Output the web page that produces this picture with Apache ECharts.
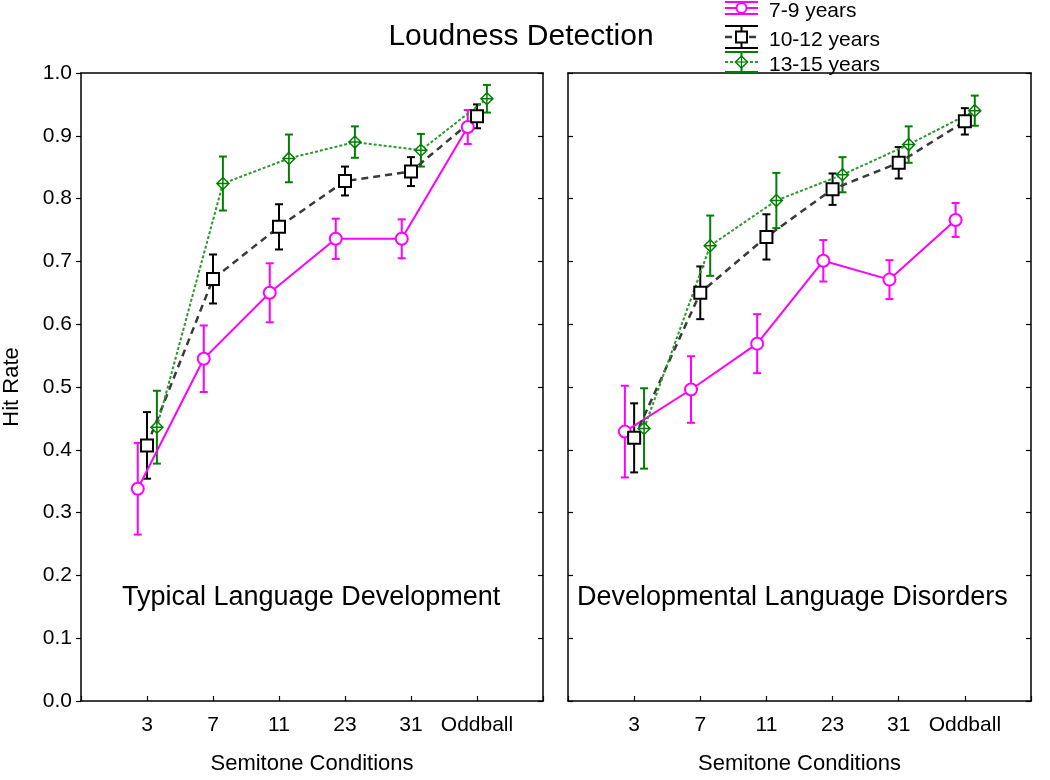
<!DOCTYPE html>
<html>
<head>
<meta charset="utf-8">
<script src="https://cdn.jsdelivr.net/npm/echarts@6/dist/echarts.min.js"></script>
<style>
  html, body { margin: 0; padding: 0; background: #fff; }
  #chart { width: 1050px; height: 780px; }
</style>
</head>
<body>
<div id="chart"></div>
<script>
// ---------------- DATA ----------------
const categories = ['3', '7', '11', '23', '31', 'Oddball'];
const groups = ['7-9 years', '10-12 years', '13-15 years'];
const yTicks = [0, 0.1, 0.2, 0.3, 0.4, 0.5, 0.6, 0.7, 0.8, 0.9, 1.0];
const panelLabels = ['Typical Language Development', 'Developmental Language Disorders'];

// Typical Language Development (left panel)
const tldMean79   = [0.338, 0.545, 0.650, 0.736, 0.736, 0.914];
const tldErr79    = [0.073, 0.053, 0.047, 0.032, 0.031, 0.027];
const tldMean1012 = [0.407, 0.672, 0.755, 0.828, 0.843, 0.931];
const tldErr1012  = [0.053, 0.039, 0.036, 0.023, 0.023, 0.019];
const tldMean1315 = [0.436, 0.824, 0.864, 0.890, 0.877, 0.959];
const tldErr1315  = [0.058, 0.043, 0.038, 0.025, 0.026, 0.022];

// Developmental Language Disorders (right panel)
const dldMean79   = [0.429, 0.496, 0.569, 0.701, 0.671, 0.766];
const dldErr79    = [0.073, 0.053, 0.047, 0.033, 0.031, 0.027];
const dldMean1012 = [0.419, 0.650, 0.739, 0.815, 0.857, 0.923];
const dldErr1012  = [0.055, 0.042, 0.036, 0.025, 0.025, 0.021];
const dldMean1315 = [0.434, 0.725, 0.797, 0.838, 0.886, 0.940];
const dldErr1315  = [0.064, 0.048, 0.044, 0.028, 0.029, 0.024];

// ---------------- STYLE ----------------
const FONT = '"Liberation Sans", Arial, sans-serif';
const groupOffset = [-0.14, 0.0, 0.15];
const markColor = ['#ff00ff', '#000000', '#008000'];
const lineColor = ['#ff00ff', '#3a3a3a', '#2a9a2a'];
const lineType  = ['solid', [7, 5], [3, 2]];
const lineWidth = [2, 2.5, 2];
const diamondPath = 'path://M0,-6L6,0L0,6L-6,0Z M-6,0L6,0 M0,-6L0,6';
const symbols = ['circle', 'rect', diamondPath];
const symbolSize = [12, 12, 12];

const panels = [
  { means: [tldMean79, tldMean1012, tldMean1315], errs: [tldErr79, tldErr1012, tldErr1315] },
  { means: [dldMean79, dldMean1012, dldMean1315], errs: [dldErr79, dldErr1012, dldErr1315] }
];

const grids = [
  { left: 81, top: 73, width: 462, height: 635 },
  { left: 568, top: 73, width: 463, height: 635 }
];

const axisLineStyle = { color: '#000', width: 1.5 };

const xAxes = [], yAxes = [];
grids.forEach((g, gi) => {
  xAxes.push({
    type: 'value', gridIndex: gi, min: 0, max: categories.length + 1, interval: 1,
    position: 'bottom',
    name: 'Semitone Conditions', nameLocation: 'middle', nameGap: 52,
    nameTextStyle: { fontFamily: FONT, fontSize: 22, color: '#000' },
    axisLine: { show: true, onZero: false, lineStyle: axisLineStyle },
    axisTick: { show: true, inside: true, length: 5, lineStyle: { color: '#000', width: 1.2 } },
    axisLabel: {
      show: true, margin: 14, fontFamily: FONT, fontSize: 21, color: '#000',
      formatter: v => (v >= 1 && v <= categories.length) ? categories[v - 1] : ''
    },
    splitLine: { show: false }
  });
  xAxes.push({
    type: 'value', gridIndex: gi, min: 0, max: categories.length + 1, position: 'top',
    axisLine: { show: true, onZero: false, lineStyle: axisLineStyle },
    axisTick: { show: false }, axisLabel: { show: false }, splitLine: { show: false }
  });
  yAxes.push({
    type: 'value', gridIndex: gi, min: yTicks[0], max: yTicks[yTicks.length - 1], interval: 0.1,
    position: 'left',
    name: gi === 0 ? 'Hit Rate' : '', nameLocation: 'middle', nameGap: 58,
    nameTextStyle: { fontFamily: FONT, fontSize: 22, color: '#000' },
    axisLine: { show: true, onZero: false, lineStyle: axisLineStyle },
    axisTick: { show: true, inside: gi !== 0, length: 5, lineStyle: { color: '#000', width: 1.2 } },
    axisLabel: {
      show: gi === 0, margin: 9, fontFamily: FONT, fontSize: 21, color: '#000',
      formatter: v => v.toFixed(1)
    },
    splitLine: { show: false }
  });
  yAxes.push({
    type: 'value', gridIndex: gi, min: yTicks[0], max: yTicks[yTicks.length - 1], interval: 0.1,
    position: 'right',
    axisLine: { show: true, onZero: false, lineStyle: axisLineStyle },
    axisTick: { show: true, inside: true, length: 5, lineStyle: { color: '#000', width: 1.2 } },
    axisLabel: { show: false }, splitLine: { show: false }
  });
});

const series = [];
panels.forEach((p, pi) => {
  groups.forEach((gname, gi) => {
    const pts = p.means[gi].map((m, ci) => [ci + 1 + groupOffset[gi], m]);
    const errData = p.means[gi].map((m, ci) => [ci + 1 + groupOffset[gi], m - p.errs[gi][ci], m + p.errs[gi][ci]]);
    series.push({
      type: 'custom', name: gname + ' err',
      xAxisIndex: pi * 2, yAxisIndex: pi * 2,
      data: errData, z: 3,
      encode: { x: 0, y: [1, 2] },
      renderItem: (params, api) => {
        const x = api.value(0);
        const lo = api.coord([x, api.value(1)]);
        const hi = api.coord([x, api.value(2)]);
        const hw = 4;
        const st = { stroke: markColor[gi], lineWidth: 2 };
        return {
          type: 'group',
          children: [
            { type: 'line', shape: { x1: lo[0], y1: lo[1], x2: hi[0], y2: hi[1] }, style: st },
            { type: 'line', shape: { x1: hi[0] - hw, y1: hi[1], x2: hi[0] + hw, y2: hi[1] }, style: st },
            { type: 'line', shape: { x1: lo[0] - hw, y1: lo[1], x2: lo[0] + hw, y2: lo[1] }, style: st }
          ]
        };
      }
    });
    series.push({
      type: 'line', name: gname,
      xAxisIndex: pi * 2, yAxisIndex: pi * 2,
      data: pts, z: 4,
      symbol: symbols[gi], symbolSize: symbolSize[gi], showAllSymbol: true,
      lineStyle: { color: lineColor[gi], width: lineWidth[gi], type: lineType[gi] },
      itemStyle: { color: '#ffffff', borderColor: markColor[gi], borderWidth: gi === 2 ? 1.5 : 2 },
      emphasis: { disabled: true },
      animation: false
    });
  });
});

// Legend (drawn as graphics to reproduce the error-bar style keys)
const legendMid = [8, 37, 62];
const legendCap = [6, 11, 10];
const legendX0 = 725, legendX1 = 758, legendXm = 741.5;
const graphics = [];
groups.forEach((gname, gi) => {
  const y = legendMid[gi], c = legendCap[gi];
  const st = { stroke: markColor[gi], lineWidth: 2 };
  graphics.push({ type: 'line', shape: { x1: legendX0, y1: y - c, x2: legendX1, y2: y - c }, style: st, z: 10 });
  graphics.push({ type: 'line', shape: { x1: legendX0, y1: y + c, x2: legendX1, y2: y + c }, style: st, z: 10 });
  graphics.push({ type: 'line', shape: { x1: legendXm, y1: y - c, x2: legendXm, y2: y + c }, style: st, z: 10 });
  graphics.push({ type: 'line', shape: { x1: legendX0, y1: y, x2: legendX1, y2: y },
    style: { stroke: lineColor[gi], lineWidth: lineWidth[gi], lineDash: Array.isArray(lineType[gi]) ? lineType[gi] : null }, z: 10 });
  if (gi === 0) {
    graphics.push({ type: 'circle', shape: { cx: legendXm, cy: y, r: 5 }, style: { fill: '#fff', stroke: markColor[gi], lineWidth: 2 }, z: 11 });
  } else if (gi === 1) {
    graphics.push({ type: 'rect', shape: { x: legendXm - 5.5, y: y - 5.5, width: 11, height: 11 }, style: { fill: '#fff', stroke: markColor[gi], lineWidth: 2 }, z: 11 });
  } else {
    graphics.push({ type: 'polygon', shape: { points: [[legendXm, y - 6], [legendXm + 6, y], [legendXm, y + 6], [legendXm - 6, y]] }, style: { fill: '#fff', stroke: markColor[gi], lineWidth: 1.5 }, z: 11 });
    graphics.push({ type: 'line', shape: { x1: legendXm - 6, y1: y, x2: legendXm + 6, y2: y }, style: { stroke: markColor[gi], lineWidth: 1.2 }, z: 12 });
    graphics.push({ type: 'line', shape: { x1: legendXm, y1: y - 6, x2: legendXm, y2: y + 6 }, style: { stroke: markColor[gi], lineWidth: 1.2 }, z: 12 });
  }
  graphics.push({ type: 'text', x: 769, y: legendMid[gi] + 3, z: 12,
    style: { text: gname, fontFamily: FONT, fontSize: 21, fill: '#000', textVerticalAlign: 'middle', textAlign: 'left' } });
});
// Panel labels
graphics.push({ type: 'text', x: 122, y: 598, z: 12,
  style: { text: panelLabels[0], fontFamily: FONT, fontSize: 27, fill: '#000', textVerticalAlign: 'middle' } });
graphics.push({ type: 'text', x: 577, y: 598, z: 12,
  style: { text: panelLabels[1], fontFamily: FONT, fontSize: 27, fill: '#000', textVerticalAlign: 'middle' } });

const chart = echarts.init(document.getElementById('chart'), null, { renderer: 'canvas' });
chart.setOption({
  animation: false,
  backgroundColor: '#ffffff',
  title: {
    text: 'Loudness Detection', left: 516, textAlign: 'center', top: 17,
    textStyle: { fontFamily: FONT, fontSize: 30, fontWeight: 'normal', color: '#000' }
  },
  grid: grids,
  xAxis: xAxes,
  yAxis: yAxes,
  series: series,
  graphic: graphics
});
</script>
</body>
</html>
